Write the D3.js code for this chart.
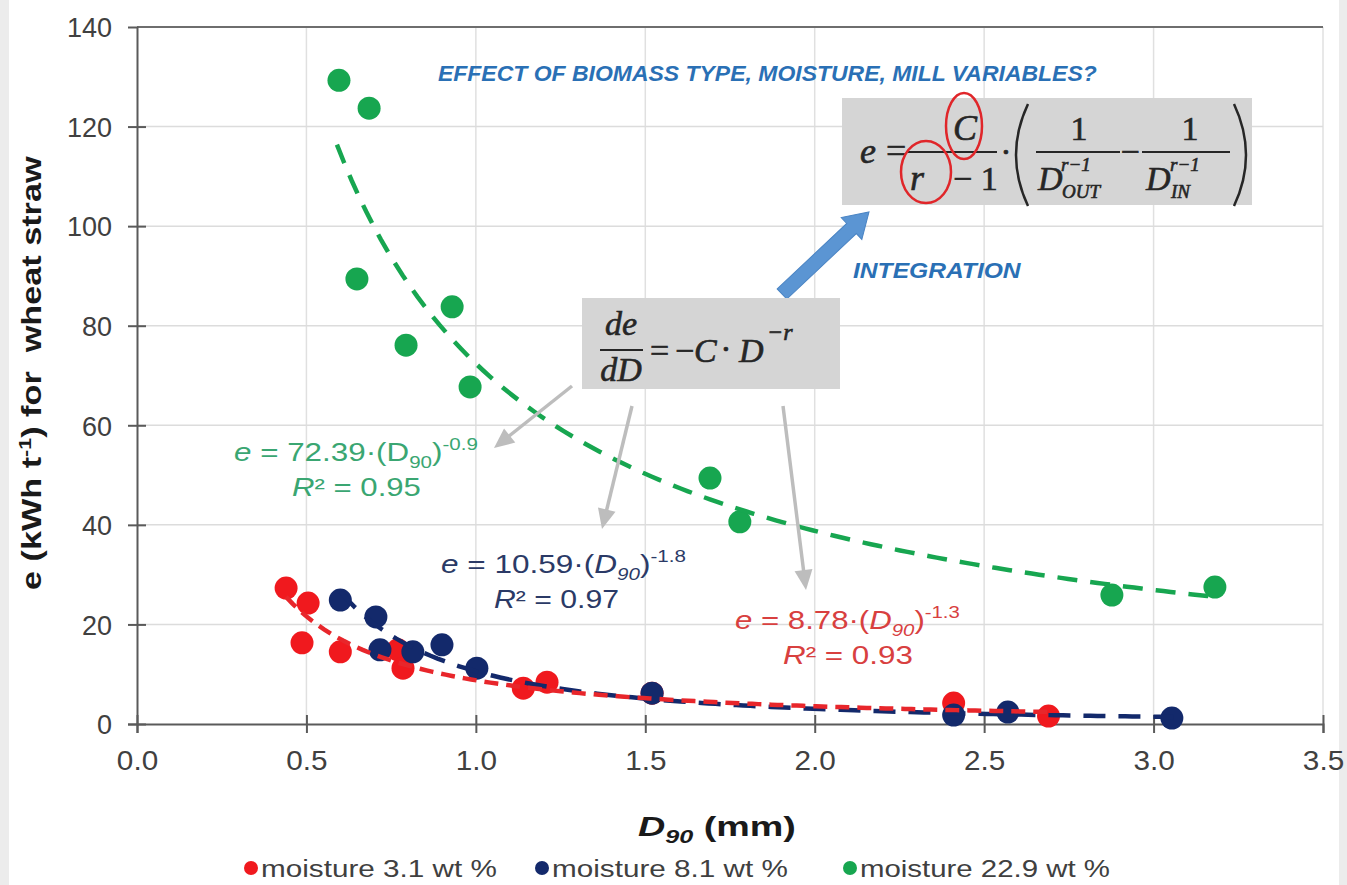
<!DOCTYPE html>
<html>
<head>
<meta charset="utf-8">
<script src="https://cdnjs.cloudflare.com/ajax/libs/d3/7.8.5/d3.min.js"></script>
<style>
  body { margin: 0; background: #fff; }
  text { font-family: "Liberation Sans", Arial, sans-serif; }
  .math { font-family: "Liberation Serif", "Times New Roman", serif; fill: #262626; stroke: #262626; stroke-width: 0.6px; }
</style>
</head>
<body>
<svg id="chart" width="1347" height="885"></svg>
<script>
// ---- data ----
var xTicks = [0, 0.5, 1, 1.5, 2, 2.5, 3, 3.5];
var yTicks = [0, 20, 40, 60, 80, 100, 120, 140];

var seriesNames = ["moisture 3.1 wt %", "moisture 8.1 wt %", "moisture 22.9 wt %"];
var seriesColors = ["#f0191e", "#13296b", "#17a650"];

var redX = [0.44, 0.505, 0.487, 0.60, 0.77, 0.785, 1.14, 1.21, 1.52, 2.41, 2.69];
var redY = [27.3, 24.3, 16.3, 14.5, 14.9, 11.2, 7.2, 8.4, 6.2, 4.2, 1.6];

var blueX = [0.60, 0.705, 0.717, 0.814, 0.90, 1.003, 1.52, 2.41, 2.57, 3.054];
var blueY = [24.9, 21.5, 14.9, 14.5, 15.9, 11.2, 6.2, 1.8, 2.4, 1.2];

var greenX = [0.596, 0.685, 0.649, 0.794, 0.93, 0.983, 1.691, 1.779, 2.877, 3.181];
var greenY = [129.3, 123.7, 89.4, 76.1, 83.8, 67.7, 49.4, 40.6, 25.9, 27.5];

// power-law fits e = C * D^-r, drawn over the fitted D range
var fitC = [8.78, 10.59, 72.39];
var fitR = [1.3, 1.8, 0.9];
var fitFrom = [0.44, 0.60, 0.59];
var fitTo = [2.70, 3.06, 3.18];

var svg = d3.select("#chart");
var W = 1347, H = 885;

svg.append("rect").attr("width", W).attr("height", H).attr("fill", "#fff");
svg.append("rect").attr("x", 0).attr("width", 9).attr("height", H).attr("fill", "#ececec");
svg.append("rect").attr("x", 1339).attr("width", 8).attr("height", H).attr("fill", "#ececec");

var x = d3.scaleLinear().domain([0, 3.5]).range([137, 1323]);
var y = d3.scaleLinear().domain([0, 140]).range([724, 27]);

// grid
svg.append("g").selectAll("line").data(xTicks.slice(1)).enter().append("line")
  .attr("x1", d => x(d)).attr("x2", d => x(d)).attr("y1", y(0)).attr("y2", y(140))
  .attr("stroke", "#e0e0e0").attr("stroke-width", 1.5);
svg.append("g").selectAll("line").data(yTicks.slice(1, -1)).enter().append("line")
  .attr("x1", x(0)).attr("x2", x(3.5)).attr("y1", d => y(d)).attr("y2", d => y(d))
  .attr("stroke", "#dcdcdc").attr("stroke-width", 1.5);
svg.append("line").attr("x1", x(0)).attr("x2", x(3.5)).attr("y1", y(140)).attr("y2", y(140))
  .attr("stroke", "#6e6e6e").attr("stroke-width", 2);

// axes
var xAxis = d3.axisBottom(x).tickValues(xTicks).tickFormat(d3.format(".1f")).tickSize(9).tickPadding(18);
var gx = svg.append("g").attr("transform", "translate(0," + y(0) + ")").call(xAxis);
var yAxis = d3.axisLeft(y).tickValues(yTicks).tickSize(9).tickPadding(14);
var gy = svg.append("g").attr("transform", "translate(" + x(0) + ",0)").call(yAxis);
[gx, gy].forEach(function (g) {
  g.select(".domain").attr("stroke", "#5a5a5a").attr("stroke-width", 2);
  g.selectAll(".tick line").attr("stroke", "#5a5a5a").attr("stroke-width", 2);
  g.selectAll(".tick text").attr("fill", "#404040").style("font-size", "27px")
    .style("font-family", "'Liberation Sans', Arial, sans-serif");
});
gx.selectAll(".tick line").attr("y1", -9);
gy.selectAll(".tick line").attr("x1", 9);
gy.selectAll(".tick text").attr("x", -25).attr("dy", "0.36em");
gx.selectAll(".tick text").attr("dy", "0.71em").attr("y", 27).attr("x", 0)
  .attr("transform", "scale(1.1,1)");
gx.select(".tick:first-child line").remove();
gy.select(".tick:last-child line").remove();

// horizontally stretch a text so it spans x0..x1
function fit(t, x0, x1) {
  var b = t.node().getBBox();
  var s = (x1 - x0) / b.width;
  t.attr("transform", "translate(" + x0 + ",0) scale(" + s + ",1) translate(" + (-b.x) + ",0)");
  return t;
}

// y axis title
var yl = svg.append("g").attr("transform", "translate(41,0) rotate(-90)");
var ylt = yl.append("text").attr("x", 0).attr("y", 0).style("font-size", "27px").style("font-weight", "bold")
  .attr("fill", "#1a1a1a").style("white-space", "pre");
ylt.append("tspan").text("e (kWh t");
ylt.append("tspan").attr("dy", -10).style("font-size", "17px").text("-1");
ylt.append("tspan").attr("dy", 10).text(") for  wheat straw");
fit(ylt, -590, -155);

// x axis title
var xl = svg.append("text").attr("y", 836).style("font-size", "27px").style("font-weight", "bold").attr("fill", "#1a1a1a");
xl.append("tspan").style("font-style", "italic").text("D");
xl.append("tspan").attr("dy", 7).style("font-size", "18px").style("font-style", "italic").text("90");
xl.append("tspan").attr("dy", -7).text(" (mm)");
fit(xl, 638, 796);

// points
var sets = [[redX, redY], [blueX, blueY], [greenX, greenY]];
sets.forEach(function (s, i) {
  svg.append("g").selectAll("circle").data(s[0]).enter().append("circle")
    .attr("cx", d => x(d)).attr("cy", (d, j) => y(s[1][j]))
    .attr("r", 11.5).attr("fill", seriesColors[i]);
});

// trend lines
var dashes = ["14,8", "22,13", "20,13"];
var lineColors = ["#e8262b", "#13296b", "#17a650"];
[1, 0, 2].forEach(function (i) {
  var pts = d3.range(0, 121).map(function (k) {
    var d = fitFrom[i] + (fitTo[i] - fitFrom[i]) * k / 120;
    return [d, fitC[i] * Math.pow(d, -fitR[i])];
  });
  svg.append("path").datum(pts)
    .attr("d", d3.line().x(p => x(p[0])).y(p => y(p[1])))
    .attr("fill", "none").attr("stroke", lineColors[i]).attr("stroke-width", 4.5)
    .attr("stroke-dasharray", dashes[i]);
});

// headline and integration note
var blueTxt = "#2a70b5";
var hd = svg.append("text").attr("y", 81).style("font-size", "22px").style("font-weight", "bold")
  .style("font-style", "italic").attr("fill", blueTxt).text("EFFECT OF BIOMASS TYPE, MOISTURE, MILL VARIABLES?");
fit(hd, 438, 1097);
var integ = svg.append("text").attr("y", 278).style("font-size", "22px").style("font-weight", "bold")
  .style("font-style", "italic").attr("fill", blueTxt).text("INTEGRATION");
fit(integ, 853, 1022);

// gray arrows from the rate equation to the fit labels
function grayArrow(x1, y1, x2, y2) {
  var a = Math.atan2(y2 - y1, x2 - x1), L = Math.hypot(x2 - x1, y2 - y1);
  var g = svg.append("g").attr("transform", "translate(" + x1 + "," + y1 + ") rotate(" + (a * 180 / Math.PI) + ")");
  g.append("line").attr("x1", 0).attr("x2", L - 14).attr("stroke", "#bdbdbd").attr("stroke-width", 3.5);
  g.append("path").attr("d", "M" + L + ",0 L" + (L - 20) + ",-9 L" + (L - 20) + ",9 Z").attr("fill", "#bdbdbd");
}
grayArrow(572, 386, 494, 448);
grayArrow(632, 406, 602, 529);
grayArrow(783, 406, 806, 590);

// blue block arrow
(function () {
  var x1 = 782, y1 = 294, x2 = 869, y2 = 212;
  var a = Math.atan2(y2 - y1, x2 - x1) * 180 / Math.PI, L = Math.hypot(x2 - x1, y2 - y1);
  svg.append("path")
    .attr("transform", "translate(" + x1 + "," + y1 + ") rotate(" + a + ")")
    .attr("d", "M0,-7 L" + (L - 24) + ",-7 L" + (L - 24) + ",-15 L" + L + ",0 L" + (L - 24) + ",15 L" + (L - 24) + ",7 L0,7 Z")
    .attr("fill", "#5b95d3").attr("stroke", "#4a84c4").attr("stroke-width", 1);
})();

// integrated equation box
svg.append("rect").attr("x", 842).attr("y", 98).attr("width", 410).attr("height", 107).attr("fill", "#d5d5d5");
function mt(xp, yp, str, size, italic, anchor) {
  return svg.append("text").attr("class", "math").attr("x", xp).attr("y", yp)
    .style("font-size", size + "px").style("font-style", italic ? "italic" : "normal")
    .style("font-family", "'Liberation Serif', 'Times New Roman', serif")
    .attr("text-anchor", anchor || "start").text(str);
}
function hbar(x1, x2, yy) {
  svg.append("line").attr("x1", x1).attr("x2", x2).attr("y1", yy).attr("y2", yy)
    .attr("stroke", "#262626").attr("stroke-width", 2);
}
mt(860, 163, "e", 36, true);
mt(886, 163, "=", 36, false);
hbar(908, 997, 152);
mt(965, 140, "C", 36, true, "middle");
mt(910, 190, "r", 36, true);
mt(953, 190, "− 1", 34, false);
mt(1006, 163, "·", 34, false, "middle");
svg.append("path").attr("d", "M1028,104 Q1004,155 1028,206").attr("fill", "none").attr("stroke", "#262626").attr("stroke-width", 2.5);
mt(1079, 140, "1", 34, false, "middle");
hbar(1036, 1120, 152);
mt(1038, 190, "D", 34, true);
mt(1061, 171, "r−1", 19, true);
mt(1062, 198, "OUT", 19, true);
mt(1130, 163, "−", 34, false, "middle");
mt(1190, 140, "1", 34, false, "middle");
hbar(1142, 1230, 152);
mt(1146, 190, "D", 34, true);
mt(1170, 171, "r−1", 19, true);
mt(1171, 198, "IN", 19, true);
svg.append("path").attr("d", "M1234,104 Q1258,155 1234,206").attr("fill", "none").attr("stroke", "#262626").attr("stroke-width", 2.5);
svg.append("ellipse").attr("cx", 964).attr("cy", 126).attr("rx", 18).attr("ry", 33)
  .attr("fill", "none").attr("stroke", "#e0262a").attr("stroke-width", 2.5);
svg.append("ellipse").attr("cx", 926).attr("cy", 172).attr("rx", 25).attr("ry", 31)
  .attr("fill", "none").attr("stroke", "#e0262a").attr("stroke-width", 2.5);

// rate equation box
svg.append("rect").attr("x", 582).attr("y", 298).attr("width", 258).attr("height", 91).attr("fill", "#d5d5d5");
mt(621, 335, "de", 34, true, "middle");
hbar(600, 643, 350);
mt(621, 381, "dD", 34, true, "middle");
mt(650, 362, "=", 34, false);
mt(675, 362, "−", 34, false);
mt(694, 362, "C", 34, true);
mt(726, 360, "·", 34, false, "middle");
mt(739, 362, "D", 34, true);
mt(767, 340, "−r", 24, true);

// fit labels
function fitLabel(color, x0, x1, yy, coef, exp, italicD, r2, rx0, rx1) {
  var t = svg.append("text").attr("y", yy).style("font-size", "26px").attr("fill", color);
  t.append("tspan").style("font-style", "italic").text("e");
  t.append("tspan").text(" = " + coef + "·(");
  t.append("tspan").style("font-style", italicD ? "italic" : "normal").text("D");
  t.append("tspan").attr("dy", 7).style("font-size", "17px").style("font-style", italicD ? "italic" : "normal").text("90");
  t.append("tspan").attr("dy", -7).text(")");
  t.append("tspan").attr("dy", -11).style("font-size", "17px").text(exp);
  fit(t, x0, x1);
  var r = svg.append("text").attr("y", yy + 35).style("font-size", "26px").attr("fill", color);
  r.append("tspan").style("font-style", "italic").text("R");
  r.append("tspan").text("² = " + r2);
  fit(r, rx0, rx1);
}
fitLabel("#3aa672", 234, 478, 461, "72.39", "-0.9", false, "0.95", 292, 421);
fitLabel("#2b3a66", 441, 686, 573, "10.59", "-1.8", true, "0.97", 494, 619);
fitLabel("#d8403f", 735, 960, 629, "8.78", "-1.3", true, "0.93", 783, 913);

// legend
var legX = [251, 542, 850];
var legEnd = [497, 788, 1110];
seriesNames.forEach(function (n, i) {
  svg.append("circle").attr("cx", legX[i]).attr("cy", 868).attr("r", 7).attr("fill", seriesColors[i]);
  var t = svg.append("text").attr("y", 877).style("font-size", "24px").attr("fill", "#404040").text(n);
  fit(t, legX[i] + 10, legEnd[i]);
});
</script>
</body>
</html>
